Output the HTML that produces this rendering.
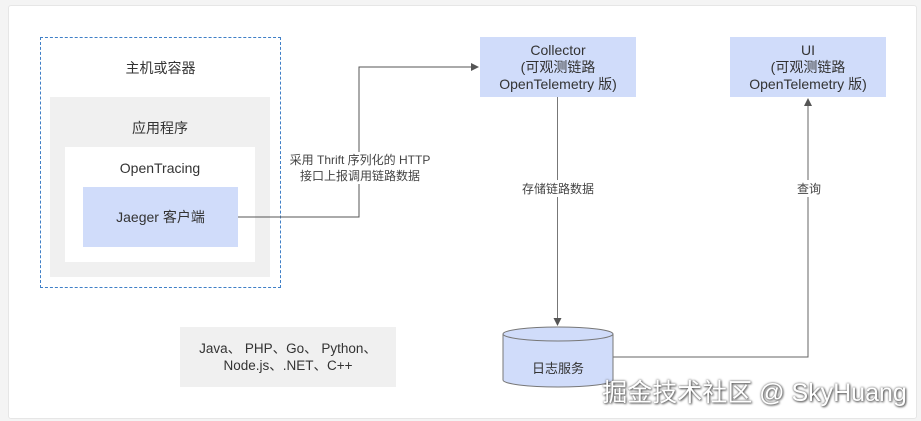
<!DOCTYPE html>
<html><head><meta charset="utf-8"><style>
body{margin:0;width:921px;height:421px;background:#f4f4f4;position:relative;overflow:hidden;font-family:"Liberation Sans","Noto Sans CJK SC",sans-serif;color:#333}
.a{position:absolute;box-sizing:border-box;display:flex;align-items:center;justify-content:center;text-align:center}
</style></head><body>
<div class="a" style="left:8px;top:5px;width:909px;height:414px;background:#fff;border:1px solid #e6e6e6;border-radius:3px"></div>
<div class="a" style="left:40px;top:37px;width:241px;height:251px;border:1px dashed #3f7fc7"></div>
<div class="a" style="left:40px;top:55px;width:241px;height:25px;font-size:14px">主机或容器</div>
<div class="a" style="left:50px;top:97px;width:220px;height:180px;background:#f0f0f0"></div>
<div class="a" style="left:50px;top:116px;width:220px;height:24px;font-size:14px">应用程序</div>
<div class="a" style="left:65px;top:147px;width:190px;height:115px;background:#fff"></div>
<div class="a" style="left:65px;top:156px;width:190px;height:24px;font-size:14px">OpenTracing</div>
<div class="a" style="left:83px;top:187px;width:155px;height:60px;background:#d0dcfa;font-size:14px">Jaeger 客户端</div>
<div class="a" style="left:480px;top:37px;width:156px;height:60px;background:#d0dcfa;font-size:14px;line-height:17px">Collector<br>(可观测链路<br>OpenTelemetry 版)</div>
<div class="a" style="left:730px;top:37px;width:156px;height:60px;background:#d0dcfa;font-size:14px;line-height:17px">UI<br>(可观测链路<br>OpenTelemetry 版)</div>
<div class="a" style="left:180px;top:327px;width:216px;height:60px;background:#f0f0f0;font-size:13.5px;line-height:17px">Java、 PHP、Go、 Python、<br>Node.js、.NET、C++</div>
<svg style="position:absolute;left:0;top:0" width="921" height="421">
<defs><marker id="m" markerWidth="8" markerHeight="8" refX="7" refY="4" orient="auto" markerUnits="userSpaceOnUse"><path d="M0,0L8,4L0,8z" fill="#555"/></marker></defs>
<polyline points="238,217 359,217 359,67 478,67" fill="none" stroke="#555" stroke-width="1" marker-end="url(#m)"/>
<line x1="557.5" y1="97" x2="557.5" y2="325" stroke="#777" marker-end="url(#m)"/>
<polyline points="613,357 808,357 808,99" fill="none" stroke="#666" marker-end="url(#m)"/>
<path d="M503,334 L503,380 A55,7 0 0 0 613,380 L613,334" fill="#d0dcfa" stroke="#777"/>
<ellipse cx="558" cy="334" rx="55" ry="7" fill="#d0dcfa" stroke="#777"/>
<rect x="285" y="152" width="150" height="32" fill="#fff"/>
<rect x="520" y="180" width="76" height="17" fill="#fff"/>
<rect x="795" y="180" width="28" height="17" fill="#fff"/>
</svg>
<div class="a" style="left:270px;top:152px;width:180px;height:32px;font-size:12px;line-height:16px;color:#444">采用 Thrift 序列化的 HTTP<br>接口上报调用链路数据</div>
<div class="a" style="left:500px;top:180px;width:116px;height:17px;font-size:12px;color:#444">存储链路数据</div>
<div class="a" style="left:780px;top:180px;width:58px;height:17px;font-size:12px;color:#444">查询</div>
<div class="a" style="left:503px;top:356px;width:110px;height:22px;font-size:13px">日志服务</div>
<div class="a" style="left:592px;top:374px;width:325px;height:34px;font-size:25px;color:#fff;text-shadow:0 0 2px #555,1px 1px 2px #555">掘金技术社区 @ SkyHuang</div>
</body></html>
